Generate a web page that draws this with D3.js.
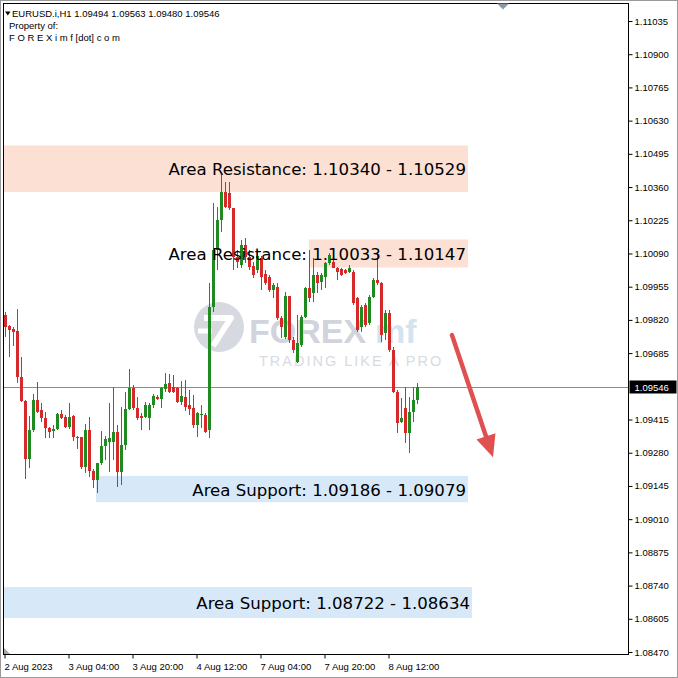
<!DOCTYPE html>
<html><head><meta charset="utf-8">
<script src="https://cdn.jsdelivr.net/npm/d3@7"></script>
<style>html,body{margin:0;padding:0;background:#fff;}svg{display:block;}</style>
</head><body><svg id="c" width="678" height="678"></svg>
<script>
// ---------- data ----------
const symbolName = "EURUSD.i,H1";
const headerLines = ["Property of:", "F O R E X i m f [dot] c o m"];
const timeTickIndex = [0, 16, 32, 48, 64, 80, 96];
const timeTickLabels = ["2 Aug 2023", "3 Aug 04:00", "3 Aug 20:00", "4 Aug 12:00", "7 Aug 04:00", "7 Aug 20:00", "8 Aug 12:00"];
const priceTicks = [1.11035, 1.10900, 1.10765, 1.10630, 1.10495, 1.10360, 1.10225, 1.10090, 1.09955, 1.09820, 1.09685,
  1.09415, 1.09280, 1.09145, 1.09010, 1.08875, 1.08740, 1.08605, 1.08470];

const open = [1.09840,1.09795,1.09783,1.09774,1.09587,1.09490,1.09254,1.09372,1.09494,1.09453,
 1.09421,1.09380,1.09368,1.09376,1.09437,1.09425,1.09384,1.09429,1.09344,1.09344,
 1.09222,1.09372,1.09205,1.09169,1.09238,1.09307,1.09323,1.09323,1.09364,1.09201,
 1.09311,1.09457,1.09543,1.09461,1.09429,1.09425,1.09421,1.09474,1.09506,1.09498,
 1.09539,1.09563,1.09547,1.09543,1.09486,1.09506,1.09474,1.09461,1.09392,1.09433,
 1.09433,1.09372,1.09872,1.10104,1.10226,1.10340,1.10335,1.10274,1.10075,1.10043,
 1.10124,1.10075,1.10039,1.10022,1.10071,1.10006,1.09994,1.09941,1.09953,1.09827,
 1.09750,1.09917,1.09738,1.09649,1.09718,1.09831,1.09949,1.09929,1.10002,1.09974,
 1.09994,1.10051,1.10055,1.10031,1.10027,1.10022,1.10014,1.10014,1.09909,1.09791,
 1.09880,1.09807,1.09913,1.09982,1.09970,1.09766,1.09848,1.09697,1.09527,1.09405,
 1.09461,1.09360,1.09445,1.09494];
const high = [1.09852,1.09799,1.09791,1.09864,1.09669,1.09494,1.09429,1.09518,1.09567,1.09482,
 1.09445,1.09384,1.09392,1.09441,1.09453,1.09433,1.09482,1.09433,1.09348,1.09344,
 1.09396,1.09425,1.09213,1.09238,1.09368,1.09348,1.09482,1.09547,1.09392,1.09465,
 1.09527,1.09620,1.09555,1.09506,1.09441,1.09486,1.09482,1.09518,1.09514,1.09547,
 1.09604,1.09600,1.09596,1.09547,1.09571,1.09575,1.09535,1.09514,1.09445,1.09474,
 1.09441,1.09970,1.10295,1.10278,1.10409,1.10380,1.10380,1.10274,1.10104,1.10144,
 1.10152,1.10104,1.10055,1.10104,1.10079,1.10022,1.10002,1.09970,1.09970,1.09836,
 1.09933,1.09917,1.09750,1.09840,1.09840,1.09953,1.10104,1.10071,1.10014,1.10010,
 1.10055,1.10092,1.10063,1.10035,1.10031,1.10027,1.10043,1.10022,1.09913,1.09880,
 1.09888,1.09921,1.09990,1.10092,1.09974,1.09860,1.09860,1.09709,1.09535,1.09502,
 1.09547,1.09506,1.09547,1.09563];
const low = [1.09750,1.09669,1.09714,1.09563,1.09486,1.09173,1.09218,1.09364,1.09441,1.09405,
 1.09340,1.09340,1.09340,1.09372,1.09417,1.09380,1.09376,1.09327,1.09295,1.09213,
 1.09197,1.09181,1.09136,1.09116,1.09230,1.09250,1.09201,1.09250,1.09140,1.09148,
 1.09291,1.09453,1.09453,1.09413,1.09372,1.09421,1.09372,1.09461,1.09494,1.09461,
 1.09527,1.09522,1.09522,1.09482,1.09474,1.09449,1.09433,1.09380,1.09344,1.09380,
 1.09360,1.09340,1.09852,1.10022,1.10177,1.10274,1.10266,1.10022,1.10031,1.10031,
 1.10051,1.10022,1.09990,1.10010,1.09941,1.09961,1.09933,1.09909,1.09819,1.09746,
 1.09742,1.09726,1.09685,1.09644,1.09709,1.09827,1.09892,1.09892,1.09929,1.09941,
 1.09949,1.10043,1.10031,1.09982,1.09998,1.10006,1.10010,1.09880,1.09770,1.09770,
 1.09791,1.09799,1.09909,1.09961,1.09730,1.09738,1.09689,1.09522,1.09360,1.09401,
 1.09319,1.09279,1.09405,1.09480];
const close = [1.09791,1.09779,1.09770,1.09587,1.09490,1.09254,1.09372,1.09494,1.09445,1.09421,
 1.09380,1.09364,1.09376,1.09437,1.09421,1.09384,1.09425,1.09344,1.09340,1.09222,
 1.09372,1.09205,1.09169,1.09238,1.09307,1.09335,1.09340,1.09364,1.09201,1.09311,
 1.09457,1.09543,1.09461,1.09421,1.09421,1.09474,1.09474,1.09510,1.09498,1.09543,
 1.09559,1.09527,1.09527,1.09486,1.09510,1.09465,1.09457,1.09392,1.09441,1.09437,
 1.09364,1.09872,1.10104,1.10226,1.10340,1.10278,1.10274,1.10075,1.10055,1.10124,
 1.10075,1.10035,1.10002,1.10079,1.09994,1.09970,1.09941,1.09961,1.09827,1.09791,
 1.09917,1.09738,1.09697,1.09726,1.09831,1.09949,1.09909,1.10002,1.09970,1.10002,
 1.10051,1.10083,1.10031,1.10014,1.10002,1.10010,1.10031,1.09888,1.09779,1.09872,
 1.09799,1.09913,1.09982,1.09970,1.09758,1.09848,1.09697,1.09527,1.09401,1.09421,
 1.09360,1.09445,1.09494,1.09546];

const zoneNames  = ["Area Resistance", "Area Resistance", "Area Support", "Area Support"];
const zoneFrom   = [1.10340, 1.10033, 1.09186, 1.08722];
const zoneTo     = [1.10529, 1.10147, 1.09079, 1.08634];
const zoneTop    = [1.10529, 1.10147, 1.09186, 1.08734];
const zoneBottom = [1.10340, 1.10033, 1.09079, 1.08608];
const zoneStart  = [-2, 76, 22.75, -2];
const zoneEnd    = [115.75, 115.75, 115.75, 116.75];
const zoneKind   = ["res", "res", "sup", "sup"];

const arrowStart = {i: 111.75, p: 1.09758};
const arrowEnd   = {i: 122.0,  p: 1.09262};

// ---------- layout ----------
const svg = d3.select("#c");
const L = 3.5, R = 628.5, T = 3.5, B = 654.5;
const x = d3.scaleLinear().domain([0, 103]).range([5, 417]);
const y = d3.scaleLinear().domain([1.08470, 1.11035]).range([652, 21]);
const bull = "#1f8a1f", bear = "#d62a2a";
const axisFont = "Liberation Sans, Arial, sans-serif";

svg.append("rect").attr("x",0).attr("y",0).attr("width",678).attr("height",678).attr("fill","#fff");

const defs = svg.append("defs");
defs.append("clipPath").attr("id","plot").append("rect")
  .attr("x",L).attr("y",T).attr("width",R-L).attr("height",B-T);

const plot = svg.append("g").attr("clip-path","url(#plot)");

// zones
plot.selectAll("rect.zone").data(zoneNames).join("rect")
  .attr("x", (d,i) => x(zoneStart[i]))
  .attr("width", (d,i) => x(zoneEnd[i]) - x(zoneStart[i]))
  .attr("y", (d,i) => y(zoneTop[i]))
  .attr("height", (d,i) => y(zoneBottom[i]) - y(zoneTop[i]))
  .attr("fill", (d,i) => zoneKind[i] === "res" ? "#fbe0d3" : "#d7e8f8");

// watermark
const wm = plot.append("g").attr("opacity", 0.9);
wm.append("circle").attr("cx",219).attr("cy",327).attr("r",25).attr("fill","#d3d5dd");
wm.append("path").attr("d","M204 318 L231 318 L213 346").attr("fill","none")
  .attr("stroke","#fff").attr("stroke-width",6).attr("stroke-linejoin","round");
wm.append("path").attr("d","M198 331 L212 331").attr("stroke","#fff").attr("stroke-width",5);
wm.append("text").attr("x",249).attr("y",343).attr("font-family","Liberation Sans, Arial, sans-serif")
  .attr("font-weight","bold").attr("font-size",34).attr("fill","#cdd0d9").text("FOREX");
wm.append("text").attr("x",375).attr("y",343).attr("font-family","Liberation Sans, Arial, sans-serif")
  .attr("font-weight","bold").attr("font-size",34).attr("fill","#cfe2f0").text("mf");
wm.append("text").attr("x",259).attr("y",366).attr("font-family","Liberation Sans, Arial, sans-serif")
  .attr("font-size",14.5).attr("letter-spacing",2).attr("fill","#d5d7de").text("TRADING LIKE A PRO");

// current price line
const last = close[close.length-1];
const yl = Math.round(y(last)) + 0.5;
plot.append("line").attr("x1",L).attr("x2",R).attr("y1",yl).attr("y2",yl)
  .attr("stroke","#8c8c8c").attr("stroke-width",1);

// candles
const idx = d3.range(open.length);
const cg = plot.append("g").attr("shape-rendering","crispEdges");
cg.selectAll("line.wick").data(idx).join("line")
  .attr("x1", i => Math.round(x(i)) + 0.5).attr("x2", i => Math.round(x(i)) + 0.5)
  .attr("y1", i => y(high[i])).attr("y2", i => y(low[i]))
  .attr("stroke", i => close[i] >= open[i] ? bull : bear).attr("stroke-width",1);
cg.selectAll("rect.body").data(idx).join("rect")
  .attr("x", i => Math.round(x(i)) - 1).attr("width", 3)
  .attr("y", i => y(Math.max(open[i], close[i])))
  .attr("height", i => Math.max(1, Math.abs(y(open[i]) - y(close[i]))))
  .attr("fill", i => close[i] >= open[i] ? bull : bear);

// zone labels
plot.selectAll("text.zl").data(zoneNames).join("text")
  .attr("x", (d,i) => x(zoneEnd[i]) - 2)
  .attr("y", (d,i) => (y(zoneTop[i]) + y(zoneBottom[i]))/2 + 1)
  .attr("text-anchor","end").attr("dominant-baseline","central")
  .attr("font-family","DejaVu Sans, Verdana, sans-serif").attr("font-size",16.6).attr("fill","#000")
  .text((d,i) => `${d}: ${zoneFrom[i].toFixed(5)} - ${zoneTo[i].toFixed(5)}`);

// arrow
const ax1 = x(arrowStart.i), ay1 = y(arrowStart.p), ax2 = x(arrowEnd.i), ay2 = y(arrowEnd.p);
const dx = ax2 - ax1, dy = ay2 - ay1, len = Math.hypot(dx, dy), ux = dx/len, uy = dy/len;
const headL = 22, headW = 10;
const bx = ax2 - ux*headL, by = ay2 - uy*headL;
const arrowCol = "#e05050";
plot.append("line").attr("x1",ax1).attr("y1",ay1).attr("x2",bx+ux*2).attr("y2",by+uy*2)
  .attr("stroke",arrowCol).attr("stroke-width",4.5).attr("stroke-linecap","round");
plot.append("path").attr("d", `M${ax2},${ay2} L${bx - uy*headW},${by + ux*headW} L${bx + uy*headW},${by - ux*headW} Z`)
  .attr("fill",arrowCol);

// frame
svg.append("rect").attr("x",L).attr("y",T).attr("width",R-L).attr("height",B-T)
  .attr("fill","none").attr("stroke","#000").attr("stroke-width",1).attr("shape-rendering","crispEdges");
svg.append("rect").attr("x",0.5).attr("y",0.5).attr("width",677).attr("height",677)
  .attr("fill","none").attr("stroke","#9a9a9a").attr("stroke-width",1);
svg.append("path").attr("d","M497,3.5 L509,3.5 L503,9.5 Z").attr("fill","#8d99a6");
svg.append("path").attr("d","M4,648 L4,654 L10,654 Z").attr("fill","#a8a8a8");

// price axis
const yAxis = d3.axisRight(y).tickValues(priceTicks).tickSize(4).tickPadding(2).tickFormat(d3.format(".5f"));
const yg = svg.append("g").attr("transform",`translate(${R},0)`).call(yAxis);
yg.select(".domain").remove();
yg.selectAll("text").attr("font-family",axisFont).attr("font-size",9.5).attr("fill","#000");
yg.selectAll("line").attr("stroke","#000");

// current price label
svg.append("rect").attr("x",R+1).attr("y",yl-7).attr("width",47).attr("height",13).attr("fill","#000");
svg.append("text").attr("x",R+6).attr("y",yl).attr("dominant-baseline","central")
  .attr("font-family",axisFont).attr("font-size",9.5).attr("fill","#fff").text(last.toFixed(5));

// time axis
const xAxis = d3.axisBottom(x).tickValues(timeTickIndex).tickSize(4).tickFormat((d,i) => timeTickLabels[i]);
const xg = svg.append("g").attr("transform",`translate(0,${B})`).call(xAxis);
xg.select(".domain").remove();
xg.selectAll("line").attr("stroke","#000").attr("transform","translate(-0.5,0)");
xg.selectAll("text").attr("font-family",axisFont).attr("font-size",9.5).attr("fill","#000")
  .attr("text-anchor","start").attr("dx",-1).attr("dy","0.9em");

// header
const hg = svg.append("g").attr("font-family",axisFont).attr("font-size",9.5).attr("fill","#000");
hg.append("path").attr("d","M5,11.5 L10.5,11.5 L7.75,15.5 Z").attr("fill","#000");
hg.append("text").attr("x",12).attr("y",17)
  .text(`${symbolName}  ${open[103].toFixed(5)} ${high[103].toFixed(5)} ${low[103].toFixed(5)} ${close[103].toFixed(5)}`);
hg.selectAll("text.hl").data(headerLines).join("text")
  .attr("x",9).attr("y",(d,i) => 28.5 + i*12).text(d => d);
</script></body></html>
